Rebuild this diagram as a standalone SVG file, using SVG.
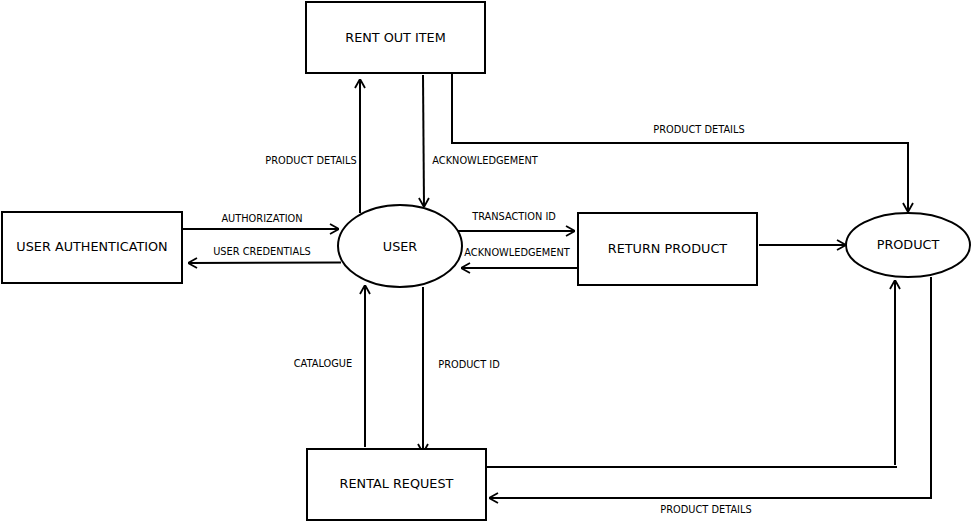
<svg xmlns="http://www.w3.org/2000/svg" width="972" height="522" viewBox="0 0 972 522">
<style>
.bg{fill:#fff}
.shape{fill:#fff;stroke:#000;stroke-width:2}
.line{fill:none;stroke:#000;stroke-width:2}
.node{font-family:"DejaVu Sans",sans-serif;font-size:12.8px;fill:#000;text-anchor:middle;dominant-baseline:central}
.lbl{font-family:"DejaVu Sans",sans-serif;font-size:9.8px;fill:#000;text-anchor:middle;dominant-baseline:central}
</style>
<defs>
<marker id="arr" viewBox="0 0 10 12" refX="10" refY="6" markerWidth="10" markerHeight="12" orient="auto" markerUnits="userSpaceOnUse">
<path d="M1,1 L10,6 L1,11" fill="none" stroke="#000" stroke-width="1.8"/>
</marker>
</defs>
<rect class="bg" x="0" y="0" width="972" height="522"/>
<g id="connectors">
<path class="line" d="M182,229 L339,229" marker-end="url(#arr)"/>
<path class="line" d="M341,262.5 L188,263" marker-end="url(#arr)"/>
<path class="line" d="M458,231 L575,231" marker-end="url(#arr)"/>
<path class="line" d="M578,268 L461,268" marker-end="url(#arr)"/>
<path class="line" d="M759,245 L846,245" marker-end="url(#arr)"/>
<path class="line" d="M360,213 L360,79" marker-end="url(#arr)"/>
<path class="line" d="M423,75 L424,207" marker-end="url(#arr)"/>
<path class="line" d="M452,73 L452,143 L908,143 L908,212" marker-end="url(#arr)"/>
<path class="line" d="M365,447 L365,285" marker-end="url(#arr)"/>
<path class="line" d="M423,287 L423,453" marker-end="url(#arr)"/>
<path class="line" d="M486,467 L897,467"/>
<path class="line" d="M895,465 L895,280" marker-end="url(#arr)"/>
<path class="line" d="M931,277 L931,499"/>
<path class="line" d="M932,498 L489,498" marker-end="url(#arr)"/>
<text class="lbl" x="262" y="218">AUTHORIZATION</text>
<text class="lbl" x="262" y="251">USER CREDENTIALS</text>
<text class="lbl" x="514" y="216">TRANSACTION ID</text>
<text class="lbl" x="517" y="252">ACKNOWLEDGEMENT</text>
<text class="lbl" x="311" y="160">PRODUCT DETAILS</text>
<text class="lbl" x="485" y="160">ACKNOWLEDGEMENT</text>
<text class="lbl" x="699" y="129">PRODUCT DETAILS</text>
<text class="lbl" x="323" y="363">CATALOGUE</text>
<text class="lbl" x="469" y="364">PRODUCT ID</text>
<text class="lbl" x="706" y="509">PRODUCT DETAILS</text>
</g>
<g id="rent-out-item">
<rect class="shape" x="306" y="2" width="179" height="71"/>
<text class="node" x="395.5" y="37">RENT OUT ITEM</text>
</g>
<g id="user-authentication">
<rect class="shape" x="2" y="212" width="180" height="71"/>
<text class="node" x="92" y="246">USER AUTHENTICATION</text>
</g>
<g id="user">
<ellipse class="shape" cx="400" cy="246" rx="62" ry="41"/>
<text class="node" x="400" y="246">USER</text>
</g>
<g id="return-product">
<rect class="shape" x="578" y="213" width="179" height="72"/>
<text class="node" x="667.5" y="248">RETURN PRODUCT</text>
</g>
<g id="product">
<ellipse class="shape" cx="908" cy="245" rx="62" ry="32"/>
<text class="node" x="908" y="244">PRODUCT</text>
</g>
<g id="rental-request">
<rect class="shape" x="307" y="449" width="179" height="71"/>
<text class="node" x="396.5" y="483">RENTAL REQUEST</text>
</g>
</svg>
